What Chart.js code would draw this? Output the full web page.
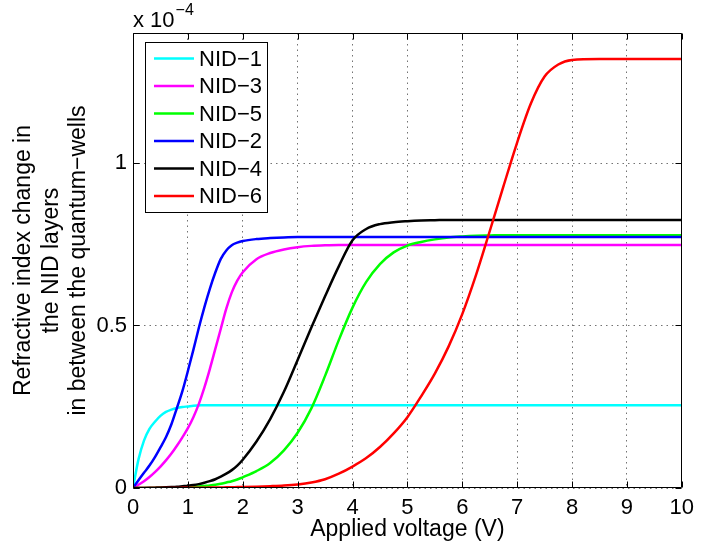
<!DOCTYPE html>
<html>
<head>
<meta charset="utf-8">
<script src="https://cdn.jsdelivr.net/npm/chart.js@4/dist/chart.umd.min.js"></script>
<style>
  html, body { margin: 0; padding: 0; background: #fff; }
  #wrap { width: 701px; height: 550px; }
</style>
</head>
<body>
<div id="wrap"><canvas id="c" width="701" height="550"></canvas></div>
<script>
// ---- data (refractive index change, units of 1e-4) ----
const voltage = [0,0.1,0.2,0.3,0.4,0.5,0.6,0.7,0.8,0.9,1,1.1,1.2,1.3,1.4,1.5,1.6,1.7,1.8,1.9,2,
  2.25,2.5,2.75,3,3.25,3.5,3.75,4,4.25,4.5,4.75,5,5.25,5.5,5.75,6,6.25,6.5,6.75,7,7.25,7.5,7.75,8,
  8.5,9,9.5,10];

const nid1 = [0,0.088,0.146,0.182,0.204,0.222,0.234,0.241,0.246,0.249,0.251,0.253,0.254,0.255,0.255,0.255,0.255,0.255,0.255,0.255,0.255,
  0.255,0.255,0.255,0.255,0.255,0.255,0.255,0.255,0.255,0.255,0.255,0.255,0.255,0.255,0.255,0.255,0.255,0.255,0.255,0.255,0.255,0.255,0.255,0.255,
  0.255,0.255,0.255,0.255];

const nid3 = [0,0.010,0.021,0.034,0.049,0.066,0.085,0.106,0.130,0.156,0.184,0.218,0.259,0.309,0.366,0.428,0.490,0.552,0.602,0.638,0.664,
  0.704,0.723,0.734,0.741,0.745,0.747,0.748,0.748,0.748,0.748,0.748,0.748,0.748,0.748,0.748,0.748,0.748,0.748,0.748,0.748,0.748,0.748,0.748,0.748,
  0.748,0.748,0.748,0.748];

const nid5 = [0,0,0,0,0.0003,0.0005,0.0008,0.0012,0.0017,0.0023,0.003,0.004,0.005,0.0065,0.008,0.010,0.013,0.017,0.021,0.026,0.033,
  0.052,0.077,0.116,0.170,0.245,0.345,0.455,0.555,0.634,0.689,0.725,0.746,0.757,0.765,0.771,0.774,0.776,0.777,0.778,0.778,0.778,0.778,0.778,0.778,
  0.778,0.778,0.778,0.778];

const nid2 = [0,0.024,0.047,0.069,0.095,0.125,0.156,0.196,0.246,0.298,0.360,0.425,0.493,0.556,0.613,0.663,0.705,0.731,0.747,0.755,0.760,
  0.766,0.769,0.771,0.772,0.772,0.772,0.772,0.772,0.772,0.772,0.772,0.772,0.772,0.772,0.772,0.772,0.772,0.772,0.772,0.772,0.772,0.772,0.772,0.772,
  0.772,0.772,0.772,0.772];

const nid4 = [0,0,0.0002,0.0005,0.001,0.0015,0.0022,0.003,0.004,0.0055,0.007,0.009,0.012,0.016,0.021,0.027,0.035,0.044,0.055,0.069,0.087,
  0.143,0.212,0.296,0.394,0.494,0.590,0.682,0.762,0.797,0.812,0.818,0.821,0.823,0.824,0.825,0.825,0.825,0.825,0.825,0.825,0.825,0.825,0.825,0.825,
  0.825,0.825,0.825,0.825];

const nid6 = [0,0,0,0,0,0.0001,0.0001,0.0002,0.0003,0.0004,0.0005,0.0006,0.0008,0.001,0.0012,0.0014,0.0017,0.002,0.0023,0.0027,0.003,
  0.004,0.0055,0.0075,0.011,0.017,0.027,0.044,0.066,0.092,0.126,0.168,0.218,0.282,0.352,0.435,0.535,0.655,0.790,0.928,1.063,1.183,1.266,1.303,1.317,
  1.320,1.320,1.320,1.320];

const seriesLabels = ['NID\u22121','NID\u22123','NID\u22125','NID\u22122','NID\u22124','NID\u22126'];
const seriesValues = [nid1, nid3, nid5, nid2, nid4, nid6];
const seriesColors = ['#00ffff','#ff00ff','#00ff00','#0000ff','#000000','#ff0000'];

const xTickValues = [0,1,2,3,4,5,6,7,8,9,10];
const yTickValues = [0,0.5,1];
const yTickLabels = ['0','0.5','1'];
const xTitle = 'Applied voltage (V)';
const yTitle = ['Refractive index change in','the NID layers','in between the quantum\u2212wells'];
const exponentBase = 'x 10';
const exponentPower = '\u22124';

// ---- chart ----
const FONT = '"Liberation Sans", Arial, Helvetica, sans-serif';
Chart.defaults.font.family = FONT;
Chart.defaults.color = '#000';

const datasets = seriesLabels.map((lab, i) => ({
  label: lab,
  data: voltage.map((v, j) => ({x: v, y: seriesValues[i][j]})),
  borderColor: seriesColors[i],
  backgroundColor: seriesColors[i],
  borderWidth: 2.5,
  pointRadius: 0,
  fill: false,
  cubicInterpolationMode: 'monotone',
  order: seriesLabels.length - i
}));

const decorPlugin = {
  id: 'decor',
  afterDraw(chart) {
    const {ctx, chartArea: a, scales: {x, y}} = chart;
    const L = Math.round(a.left) + 0.5, R = Math.round(a.right) - 0.5;
    const T = Math.round(a.top) + 0.5, B = Math.round(a.bottom) - 0.5;
    ctx.save();
    ctx.strokeStyle = '#000';
    ctx.lineWidth = 1;
    ctx.beginPath();
    ctx.rect(L, T, R - L, B - T);
    const tl = 6;
    xTickValues.forEach(v => {
      const px = Math.round(x.getPixelForValue(v)) + 0.5;
      ctx.moveTo(px, B); ctx.lineTo(px, B - tl);
      ctx.moveTo(px, T); ctx.lineTo(px, T + tl);
    });
    yTickValues.forEach(v => {
      const py = Math.round(y.getPixelForValue(v)) + 0.5;
      ctx.moveTo(L, py); ctx.lineTo(L + tl, py);
      ctx.moveTo(R, py); ctx.lineTo(R - tl, py);
    });
    ctx.stroke();

    // exponent label
    ctx.fillStyle = '#000';
    ctx.textAlign = 'left';
    ctx.textBaseline = 'alphabetic';
    ctx.font = '22px ' + FONT;
    ctx.fillText(exponentBase, a.left, 27);
    const w = ctx.measureText(exponentBase).width;
    ctx.font = '16px ' + FONT;
    ctx.fillText(exponentPower, a.left + w + 1, 15);

    // legend
    const lx = 145.5, ly = 42.5, lw = 122, lh = 170;
    ctx.fillStyle = '#fff';
    ctx.fillRect(lx, ly, lw, lh);
    ctx.strokeStyle = '#000';
    ctx.lineWidth = 1;
    ctx.strokeRect(lx, ly, lw, lh);
    ctx.font = '22px ' + FONT;
    ctx.textBaseline = 'middle';
    chart.data.datasets.forEach((ds, i) => {
      const yy = 58.5 + i * 27.5;
      ctx.strokeStyle = ds.borderColor;
      ctx.lineWidth = 2.5;
      ctx.beginPath();
      ctx.moveTo(154, yy); ctx.lineTo(194, yy);
      ctx.stroke();
      ctx.fillStyle = '#000';
      ctx.fillText(ds.label, 199, yy + 1);
    });
    ctx.restore();
  }
};

new Chart(document.getElementById('c'), {
  type: 'line',
  data: { datasets },
  options: {
    responsive: false,
    animation: false,
    events: [],
    layout: { padding: { top: 33, right: 16, bottom: 0, left: 0 } },
    plugins: { legend: { display: false }, tooltip: { enabled: false } },
    scales: {
      x: {
        type: 'linear',
        min: 0, max: 10,
        afterBuildTicks: s => { s.ticks = xTickValues.map(v => ({value: v})); },
        afterFit: s => { s.height = 62; },
        ticks: { font: { size: 22 }, padding: 7, maxRotation: 0, color: '#000',
                 callback: v => String(v) },
        grid: { color: 'rgba(0,0,0,0.55)', lineWidth: 1, drawTicks: false },
        border: { display: false, dash: [1.5, 4] },
        title: { display: true, text: xTitle, font: { size: 23 }, color: '#000',
                 padding: { top: 0, bottom: 7 } }
      },
      y: {
        type: 'linear',
        min: 0, max: 1.4,
        afterBuildTicks: s => { s.ticks = yTickValues.map(v => ({value: v})); },
        afterFit: s => { s.width = 133; },
        ticks: { font: { size: 22 }, padding: 6, color: '#000',
                 callback: v => yTickLabels[yTickValues.indexOf(v)] ?? '' },
        grid: { color: 'rgba(0,0,0,0.55)', lineWidth: 1, drawTicks: false },
        border: { display: false, dash: [1.5, 4] },
        title: { display: true, text: yTitle, font: { size: 23, lineHeight: 1.2 }, color: '#000',
                 padding: { top: 10, bottom: 0 } }
      }
    }
  },
  plugins: [decorPlugin]
});
</script>
</body>
</html>
